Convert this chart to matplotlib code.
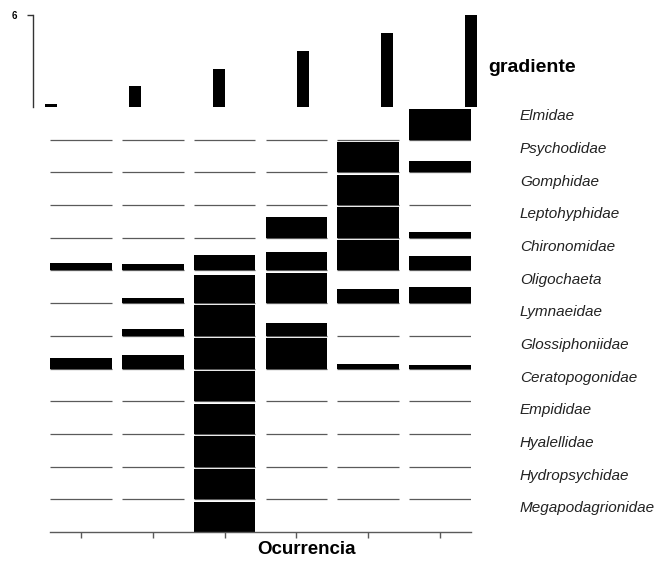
import matplotlib
matplotlib.use("Agg")
import matplotlib.pyplot as plt
from matplotlib.transforms import blended_transform_factory

plt.rcParams["font.family"] = ["Liberation Sans", "DejaVu Sans"]

taxa = ["Elmidae", "Psychodidae", "Gomphidae", "Leptohyphidae", "Chironomidae",
        "Oligochaeta", "Lymnaeidae", "Glossiphoniidae", "Ceratopogonidae",
        "Empididae", "Hyalellidae", "Hydropsychidae", "Megapodagrionidae"]

# gradient value of each site (top panel)
gradient = [0.2, 1.4, 2.5, 3.65, 4.8, 6.0]

# relative occurrence of each taxon per site (one list per site, taxa order above)
site1 = [0, 0, 0, 0, 0.24, 0, 0, 0.36, 0, 0, 0, 0, 0]
site2 = [0, 0, 0, 0, 0.22, 0.16, 0.21, 0.46, 0, 0, 0, 0, 0]
site3 = [0, 0, 0, 0, 0.51, 0.92, 1.0, 1.0, 1.0, 1.0, 1.0, 1.0, 1.0]
site4 = [0, 0, 0, 0.69, 0.62, 1.0, 0.41, 1.0, 0, 0, 0, 0, 0]
site5 = [0, 1.0, 1.0, 1.0, 1.0, 0.46, 0, 0.16, 0, 0, 0, 0, 0]
site6 = [1.0, 0.36, 0, 0.2, 0.49, 0.54, 0, 0.1, 0, 0, 0, 0, 0]
sites = [site1, site2, site3, site4, site5, site6]

W, H = 660, 561
fig = plt.figure(figsize=(W / 100, H / 100), dpi=100)

def frac_box(x0, y0, x1, y1):
    # pixel box (top-left origin) -> figure fraction [left, bottom, width, height]
    return [x0 / W, 1 - y1 / H, (x1 - x0) / W, (y1 - y0) / H]

n = len(taxa)
ns = len(sites)
row_fill = 0.93
bar_w = 0.86
line_col = "#5a5a5a"

# ---- main occurrence panel ----
ax = fig.add_axes(frac_box(50, 107, 471, 532))
ax.set_xlim(-bar_w / 2, ns - 1 + bar_w / 2)
ax.set_ylim(0, n)

for j, vals in enumerate(sites):
    for i, v in enumerate(vals):
        base = n - 1 - i
        if base > 0:
            ax.plot([j - bar_w / 2, j + bar_w / 2], [base, base],
                    color=line_col, lw=0.9, solid_capstyle="butt", zorder=1)
        if v > 0:
            ax.bar(j, v * row_fill, width=bar_w, bottom=base,
                   color="black", edgecolor="none", zorder=2)

for s in ["top", "right", "left"]:
    ax.spines[s].set_visible(False)
ax.spines["bottom"].set_color(line_col)
ax.spines["bottom"].set_linewidth(1.0)
ax.set_yticks([])
ax.set_xticks(range(ns))
ax.set_xticklabels([])
ax.tick_params(axis="x", length=4.5, width=1.0, color=line_col, direction="out")

tr = blended_transform_factory(fig.transFigure, ax.transData)
for i, name in enumerate(taxa):
    ax.text(520 / W, n - 1 - i + 0.72, name, transform=tr, style="italic",
            fontsize=11, color="#222222", va="center", ha="left")

fig.text(307 / W, 1 - 549 / H, "Ocurrencia", fontsize=13.5, fontweight="bold",
         ha="center", va="center")

# ---- gradient panel ----
axg = fig.add_axes(frac_box(33, 15, 480, 107))
axg.set_xlim((33 - 51) / 84, (480 - 51) / 84)
axg.set_ylim(0, 6)
axg.bar(range(ns), gradient, width=12 / 84, color="black", edgecolor="none")
for s in ["top", "right", "bottom"]:
    axg.spines[s].set_visible(False)
axg.spines["left"].set_color("#333333")
axg.spines["left"].set_linewidth(1.0)
axg.set_xticks([])
axg.set_yticks([6])
axg.set_yticklabels(["6"], fontsize=7, fontweight="bold")
axg.tick_params(axis="y", length=4.5, width=1.0, color="#333333", pad=7)

fig.text(488 / W, 1 - 67 / H, "gradiente", fontsize=14, fontweight="bold",
         ha="left", va="center")

fig.savefig("out.png", dpi=100)
